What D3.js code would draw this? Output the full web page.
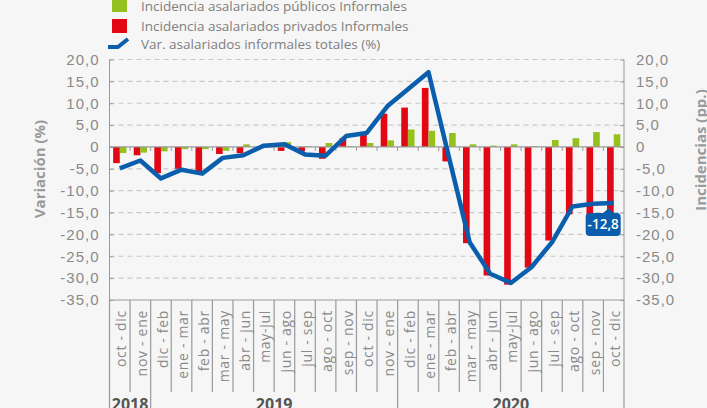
<!DOCTYPE html>
<html lang="es">
<head>
<meta charset="UTF-8">
<title>Asalariados informales</title>
<script src="https://cdnjs.cloudflare.com/ajax/libs/d3/7.8.5/d3.min.js"></script>
<style>
    html, body { margin: 0; padding: 0; background: #f6f6f6; }
    svg { display: block; font-family: "Open Sans", sans-serif; }
    .tick text { fill: #8a8a8a; font-size: 15px; letter-spacing: 1px; }
    .axis path, .axis line { stroke: #9a9a9a; }
</style>
</head>
<body>
<svg id="chart" width="707" height="408"></svg>
<script>
// periods (rolling quarters)
const periods = ["oct - dic", "nov - ene", "dic - feb", "ene - mar", "feb - abr", "mar - may", "abr - jun",
    "may-jul", "jun - ago", "jul - sep", "ago - oct", "sep - nov", "oct - dic", "nov - ene", "dic - feb",
    "ene - mar", "feb - abr", "mar - may", "abr - jun", "may-jul", "jun - ago", "jul - sep", "ago - oct",
    "sep - nov", "oct - dic"];
const years = ["2018", "2019", "2020"];
const yearCounts = [2, 12, 11];

// incidencia privados (pp.)
const privados = [-3.7, -1.9, -6.0, -5.0, -5.8, -1.6, -1.4, 0.2, -0.9, -1.0, -2.7, 2.0, 2.9,
    7.6, 9.0, 13.5, -3.3, -22.0, -29.4, -31.5, -27.6, -21.4, -15.4, -16.5, -15.7];
// incidencia publicos (pp.)
const publicos = [-1.4, -1.3, -1.0, -0.5, -0.5, -0.9, 0.6, 0.1, 1.1, 0.2, 0.9, 0.2, 0.9,
    1.5, 4.0, 3.7, 3.2, 0.6, 0.3, 0.6, 0.2, 1.6, 2.0, 3.4, 2.9];
// var. asalariados informales totales (%)
const totales = [-4.9, -3.1, -7.2, -5.2, -6.1, -2.5, -1.9, 0.3, 0.6, -1.7, -2.0, 2.5, 3.2,
    9.3, 13.2, 17.1, -2.5, -21.8, -29.0, -31.1, -27.5, -21.8, -13.6, -13.0, -12.8];

const yTicks = d3.range(-35, 21, 5);

const svg = d3.select("#chart");
const plotL = 109.5, plotR = 624, plotT = 59.5, plotB = 300;
const red = "#e30613", green = "#95c11f", blue = "#0a5eab";

const x = d3.scaleBand().domain(d3.range(periods.length)).range([plotL, plotR]).padding(0);
const xs = d3.scaleBand().domain(["priv", "pub"]).range([0, x.bandwidth()]).paddingOuter(0.55);
const y = d3.scaleLinear().domain([-35, 20]).range([plotB, plotT]);
const fmt = d => d === 0 ? "0" : d.toFixed(1).replace(".", ",");

// gridlines
svg.append("g").selectAll("line")
    .data(yTicks.filter(d => d !== 0 && d !== -35))
    .join("line")
    .attr("x1", plotL).attr("x2", plotR)
    .attr("y1", d => y(d)).attr("y2", d => y(d))
    .attr("stroke", "#c9c9c9").attr("stroke-width", 1.2)
    .attr("stroke-dasharray", "5,4");

// axes
svg.append("g").attr("class", "axis")
    .attr("transform", `translate(${plotL},0)`)
    .call(d3.axisLeft(y).tickValues(yTicks).tickSize(-4).tickPadding(10).tickFormat(fmt))
    .call(g => g.select(".domain").attr("d", `M0,${plotT}V${plotB}`));
svg.append("g").attr("class", "axis")
    .attr("transform", `translate(${plotR},0)`)
    .call(d3.axisRight(y).tickValues(yTicks).tickSize(-4).tickPadding(12).tickFormat(fmt))
    .call(g => g.select(".domain").attr("d", `M0,${plotT}V${plotB}`));

// bars
svg.append("g").selectAll("rect")
    .data(privados)
    .join("rect")
    .attr("x", (d, i) => x(i) + xs("priv"))
    .attr("width", xs.bandwidth())
    .attr("y", d => y(Math.max(0, d)))
    .attr("height", d => Math.abs(y(d) - y(0)))
    .attr("fill", red);
svg.append("g").selectAll("rect")
    .data(publicos)
    .join("rect")
    .attr("x", (d, i) => x(i) + xs("pub"))
    .attr("width", xs.bandwidth())
    .attr("y", d => y(Math.max(0, d)))
    .attr("height", d => Math.abs(y(d) - y(0)))
    .attr("fill", green);

// zero line with small ticks
svg.append("line")
    .attr("x1", plotL).attr("x2", plotR)
    .attr("y1", y(0)).attr("y2", y(0))
    .attr("stroke", "#9a9a9a").attr("stroke-width", 1.2);
svg.append("g").selectAll("line")
    .data(d3.range(1, periods.length))
    .join("line")
    .attr("x1", i => x(i)).attr("x2", i => x(i))
    .attr("y1", y(0)).attr("y2", y(0) + 4)
    .attr("stroke", "#9a9a9a");

// total line
const line = d3.line()
    .x((d, i) => x(i) + x.bandwidth() / 2)
    .y(d => y(d));
svg.append("path")
    .datum(totales)
    .attr("d", line)
    .attr("fill", "none")
    .attr("stroke", blue)
    .attr("stroke-width", 4.5)
    .attr("stroke-linejoin", "round");

// last value label
const lastI = totales.length - 1;
const lx = x(lastI) + x.bandwidth() / 2 - 5, ly = y(totales[lastI]);
svg.append("path")
    .attr("d", `M${lx - 1},${ly + 2}V${ly + 10}M${lx - 5},${ly + 10}L${lx},${ly + 6}L${lx + 4},${ly + 10}Z`)
    .attr("stroke", blue).attr("stroke-width", 1).attr("fill", blue);
svg.append("rect")
    .attr("x", lx - 23).attr("y", ly + 10)
    .attr("width", 35).attr("height", 23).attr("rx", 4)
    .attr("fill", blue);
svg.append("text")
    .attr("x", lx - 5.5).attr("y", ly + 26.5)
    .attr("text-anchor", "middle")
    .attr("fill", "#fff").attr("font-size", 13.5).attr("font-weight", 600)
    .text(fmt(totales[lastI]));

// category axis
svg.append("line")
    .attr("x1", plotL).attr("x2", plotR).attr("y1", plotB).attr("y2", plotB)
    .attr("stroke", "#9a9a9a").attr("stroke-width", 1.2);
const groupEdges = [0];
yearCounts.forEach(c => groupEdges.push(groupEdges[groupEdges.length - 1] + c));
svg.append("g").selectAll("line")
    .data(d3.range(0, periods.length + 1))
    .join("line")
    .attr("x1", i => i < periods.length ? x(i) : plotR)
    .attr("x2", i => i < periods.length ? x(i) : plotR)
    .attr("y1", plotB)
    .attr("y2", i => groupEdges.includes(i) ? 408 : 392)
    .attr("stroke", "#9a9a9a").attr("stroke-width", 1.2);
svg.append("g").selectAll("text")
    .data(periods)
    .join("text")
    .attr("transform", (d, i) => `translate(${x(i) + x.bandwidth() / 2 + 1},310) rotate(-90)`)
    .attr("text-anchor", "end")
    .attr("dy", "0.4em")
    .attr("fill", "#8a8a8a").attr("font-size", 14).attr("letter-spacing", 0.7)
    .text(d => d);
svg.append("g").selectAll("text")
    .data(years)
    .join("text")
    .attr("x", (d, i) => {
        const a = x(groupEdges[i]);
        const b = groupEdges[i + 1] < periods.length ? x(groupEdges[i + 1]) : plotR;
        return (a + b) / 2;
    })
    .attr("y", 409.5)
    .attr("text-anchor", "middle")
    .attr("fill", "#555").attr("font-size", 16).attr("font-weight", 700)
    .text(d => d);

// axis titles
svg.append("text")
    .attr("transform", "translate(45,169) rotate(-90)")
    .attr("text-anchor", "middle")
    .attr("fill", "#9a9a9a").attr("font-size", 15).attr("font-weight", 700)
    .text("Variación (%)");
svg.append("text")
    .attr("transform", "translate(706,150) rotate(-90)")
    .attr("text-anchor", "middle")
    .attr("fill", "#9a9a9a").attr("font-size", 15).attr("font-weight", 700)
    .text("Incidencias (pp.)");

// legend
const legend = svg.append("g").attr("font-size", 13.5).attr("fill", "#808080");
legend.append("rect").attr("x", 112).attr("y", -2).attr("width", 15).attr("height", 14).attr("fill", green);
legend.append("rect").attr("x", 112).attr("y", 19).attr("width", 15).attr("height", 14).attr("fill", red);
legend.append("path").attr("d", "M108,47H118L128,39")
    .attr("fill", "none").attr("stroke", blue).attr("stroke-width", 4).attr("stroke-linejoin", "round");
legend.append("text").attr("x", 141).attr("y", 11).text("Incidencia asalariados públicos Informales");
legend.append("text").attr("x", 141).attr("y", 31).text("Incidencia asalariados privados Informales");
legend.append("text").attr("x", 141).attr("y", 49).text("Var. asalariados informales totales (%)");
</script>
</body>
</html>
